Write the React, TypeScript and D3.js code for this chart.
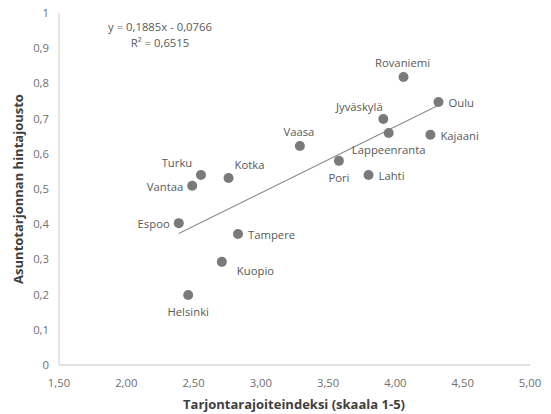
import React from "react";
import * as d3 from "d3";

const cities = ["Helsinki", "Espoo", "Tampere", "Kuopio", "Vantaa", "Turku", "Kotka", "Vaasa", "Pori", "Lahti", "Jyväskylä", "Lappeenranta", "Rovaniemi", "Oulu", "Kajaani"];
const indexValues = [2.46, 2.39, 2.83, 2.71, 2.49, 2.555, 2.76, 3.29, 3.58, 3.80, 3.91, 3.95, 4.06, 4.32, 4.26];
const elasticity = [0.199, 0.403, 0.372, 0.293, 0.509, 0.54, 0.531, 0.622, 0.58, 0.54, 0.699, 0.659, 0.818, 0.747, 0.654];
const labelPlacement = ["below", "left", "right", "belowright", "left", "aboveleft", "aboveright", "above", "below", "right", "aboveleft", "below", "above", "right", "right"];
const xTicks = [1.5, 2.0, 2.5, 3.0, 3.5, 4.0, 4.5, 5.0];
const yTicks = [0, 0.1, 0.2, 0.3, 0.4, 0.5, 0.6, 0.7, 0.8, 0.9, 1];
const slope = 0.1885;
const intercept = -0.0766;
const r2 = 0.6515;

const W = 551, H = 414;
const font = "'Open Sans', sans-serif";
const fs = 11.3;

export default function App() {
  const x = d3.scaleLinear().domain([1.5, 5]).range([59, 530]);
  const y = d3.scaleLinear().domain([0, 1]).range([365, 13]);
  const fmtX = (v: number) => v.toFixed(2).replace(".", ",");
  const fmtY = (v: number) => (v === 0 || v === 1 ? String(v) : v.toFixed(1).replace(".", ","));
  const xmin = d3.min(indexValues)!;
  const xmax = d3.max(indexValues)!;
  const line = d3.line<number>().x((d) => x(d)).y((d) => y(slope * d + intercept));

  const labelPos = (p: string) => {
    switch (p) {
      case "below": return { dx: 0, dy: 17, anchor: "middle" };
      case "above": return { dx: -1, dy: -14, anchor: "middle" };
      case "left": return { dx: -9, dy: 1, anchor: "end" };
      case "right": return { dx: 10, dy: 1, anchor: "start" };
      case "belowright": return { dx: 15, dy: 9, anchor: "start" };
      case "aboveleft": return { dx: -24, dy: -12, anchor: "middle" };
      case "aboveright": return { dx: 6, dy: -13, anchor: "start" };
      default: return { dx: 0, dy: 0, anchor: "middle" };
    }
  };

  return (
    <svg width={W} height={H} style={{ position: "absolute", left: 0, top: 0, background: "#fff" }}>
      <line x1={x(1.5)} x2={x(1.5)} y1={y(0)} y2={y(1)} stroke="#d9d9d9" strokeWidth={1.3} />
      <line x1={x(1.5)} x2={x(5)} y1={y(0)} y2={y(0)} stroke="#d9d9d9" strokeWidth={1.3} />
      {yTicks.map((t) => (
        <text key={"y" + t} x={49} y={y(t)} dy="0.35em" textAnchor="end" fontFamily={font} fontSize={fs} fill="#707070">{fmtY(t)}</text>
      ))}
      {xTicks.map((t) => (
        <text key={"x" + t} x={x(t)} y={383} dy="0.35em" textAnchor="middle" fontFamily={font} fontSize={fs} fill="#707070">{fmtX(t)}</text>
      ))}
      <path d={line([xmin, xmax]) || ""} stroke="#8c8c8c" strokeWidth={1.1} fill="none" />
      {cities.map((c, i) => {
        const px = x(indexValues[i]);
        const py = y(elasticity[i]);
        const lp = labelPos(labelPlacement[i]);
        return (
          <g key={c}>
            <circle cx={px} cy={py} r={5} fill="#7a7a7a" />
            <text x={px + lp.dx} y={py + lp.dy} dy="0.35em" textAnchor={lp.anchor as any} fontFamily={font} fontSize={fs} fill="#595959">{c}</text>
          </g>
        );
      })}
      <text x={160} y={27} dy="0.35em" textAnchor="middle" fontFamily={font} fontSize={fs} fill="#595959">{`y = ${String(slope).replace(".", ",")}x - ${String(-intercept).replace(".", ",")}`}</text>
      <text x={160} y={43} dy="0.35em" textAnchor="middle" fontFamily={font} fontSize={fs} fill="#595959">R² = {String(r2).replace(".", ",")}</text>
      <text x={294} y={404} dy="0.35em" textAnchor="middle" fontFamily={font} fontSize={13} fontWeight="bold" fill="#404040">Tarjontarajoiteindeksi (skaala 1-5)</text>
      <text transform={`translate(18,189) rotate(-90)`} dy="0.35em" textAnchor="middle" fontFamily={font} fontSize={13} fontWeight="bold" fill="#404040">Asuntotarjonnan hintajousto</text>
    </svg>
  );
}
